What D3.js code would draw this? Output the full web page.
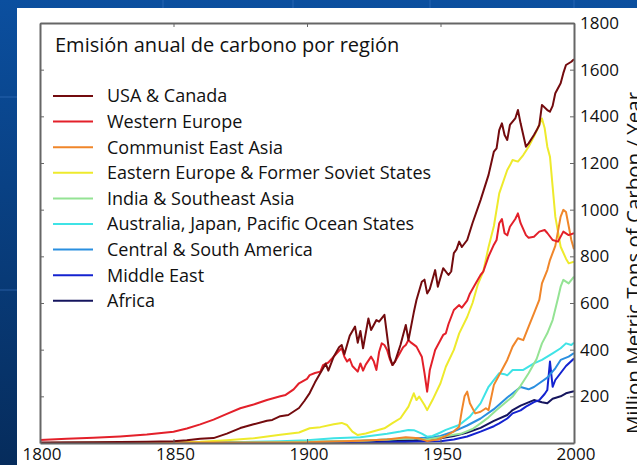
<!DOCTYPE html>
<html>
<head>
<meta charset="utf-8">
<script src="https://cdn.jsdelivr.net/npm/d3@7"></script>
<style>
  html, body { margin: 0; padding: 0; }
  body { width: 637px; height: 465px; overflow: hidden; }
  svg { display: block; font-family: "Open Sans", "DejaVu Sans", sans-serif; }
</style>
</head>
<body>
<svg id="chart" width="637" height="465"></svg>
<script>
// Million metric tons of carbon per year
const usaYears = [1800,1820,1830,1840,1850,1855,1860,1865,1870,1875,1880,1885,1887,1890,1893,1895,1897,1899,1901,1903,1905,1907,1908,1910,1912,1913,1914,1916,1918,1919,1920,1921,1923,1924,1926,1927,1929,1930,1931,1932,1933,1935,1937,1938,1940,1941,1943,1944,1945,1946,1948,1949,1951,1953,1954,1955,1956,1957,1958,1960,1962,1965,1968,1970,1971,1972,1973,1974,1975,1976,1978,1979,1980,1982,1983,1985,1986,1987,1988,1990,1991,1992,1993,1995,1996,1997,1999,2000];
const usaValues = [2,3,4,5,8,12,18,21,40,64,80,95,99,115,120,135,150,180,214,260,300,340,310,370,410,420,380,460,499,430,480,406,534,484,527,520,549,460,370,334,350,420,506,441,560,613,691,700,641,660,741,670,749,720,735,814,830,863,840,870,943,1041,1149,1249,1263,1341,1370,1320,1299,1363,1391,1427,1370,1270,1284,1320,1340,1363,1449,1427,1420,1445,1499,1542,1585,1620,1634,1645];

const weYears = [1800,1810,1820,1830,1840,1850,1855,1860,1865,1870,1875,1880,1885,1890,1892,1895,1897,1900,1901,1903,1905,1906,1908,1910,1912,1913,1914,1915,1916,1917,1919,1920,1921,1922,1924,1925,1926,1927,1928,1929,1930,1931,1932,1933,1934,1936,1937,1938,1939,1941,1943,1944,1945,1946,1948,1950,1951,1952,1953,1955,1957,1958,1960,1961,1963,1965,1966,1968,1970,1971,1972,1973,1974,1975,1976,1978,1979,1980,1982,1983,1985,1987,1989,1990,1992,1994,1996,1998,2000];
const weValues = [13,18,22,28,36,48,62,80,100,125,149,165,184,200,206,230,256,275,291,300,306,334,345,370,395,406,370,349,360,330,306,341,310,336,370,350,313,390,427,420,399,360,334,350,370,410,420,441,430,413,370,300,220,313,399,441,463,470,510,570,591,580,610,640,680,720,734,800,850,870,942,960,899,890,927,960,984,942,891,880,884,906,913,900,870,863,906,891,899];

const ceaYears = [1800,1900,1910,1920,1930,1937,1942,1945,1949,1952,1955,1957,1958,1959,1960,1961,1963,1965,1967,1968,1970,1973,1975,1977,1979,1981,1983,1985,1987,1988,1990,1991,1993,1995,1996,1997,1998,1999,2000];
const ceaValues = [0,3,6,10,15,25,20,8,15,30,50,70,140,200,220,170,127,134,149,141,249,313,356,413,449,441,499,556,613,684,741,784,845,970,999,990,930,870,830];

const eeYears = [1800,1850,1860,1870,1880,1890,1897,1901,1905,1910,1913,1915,1917,1919,1922,1925,1929,1932,1935,1938,1940,1941,1942,1944,1945,1947,1950,1952,1955,1957,1960,1962,1964,1966,1968,1970,1972,1975,1976,1977,1979,1981,1983,1985,1987,1988,1989,1990,1991,1992,1993,1995,1997,1998,2000];
const eeValues = [0,2,5,12,20,35,45,63,68,80,86,77,49,34,41,50,63,85,106,156,213,184,199,163,141,184,256,327,399,470,540,600,680,734,840,930,1070,1170,1190,1213,1206,1234,1270,1313,1363,1391,1350,1270,1227,1099,970,841,790,770,777];

const indYears = [1800,1880,1900,1920,1930,1940,1945,1950,1955,1958,1962,1965,1968,1971,1974,1977,1980,1983,1986,1988,1990,1992,1994,1995,1996,1998,2000];
const indValues = [0,2,5,10,15,20,15,25,35,41,60,84,110,141,170,199,245,299,360,427,470,527,620,670,699,684,713];

const ajpYears = [1800,1870,1880,1890,1900,1910,1920,1930,1935,1938,1940,1943,1945,1947,1950,1952,1957,1961,1965,1968,1972,1974,1975,1977,1981,1985,1988,1992,1995,1997,1999,2000];
const ajpValues = [0,2,5,8,12,20,25,40,49,56,55,40,27,30,45,56,77,113,170,241,299,295,290,313,313,341,356,384,406,427,420,430];

const csaYears = [1800,1880,1900,1920,1930,1940,1945,1950,1955,1960,1965,1970,1975,1980,1983,1985,1987,1990,1993,1995,1998,2000];
const csaValues = [0,1,4,10,15,20,22,30,50,75,105,145,195,240,230,240,256,280,320,356,370,385];

const meYears = [1800,1920,1930,1940,1950,1955,1960,1965,1970,1972,1975,1977,1980,1982,1985,1987,1989,1990,1991,1992,1993,1995,1997,2000];
const meValues = [0,1,3,5,8,15,28,49,72,84,105,127,140,156,175,184,210,227,349,241,270,300,330,362];

const afYears = [1800,1900,1920,1930,1940,1950,1955,1960,1965,1970,1975,1977,1980,1985,1988,1990,1992,1995,1997,2000];
const afValues = [0,2,5,8,12,20,30,45,65,95,120,141,160,184,175,170,190,200,213,222];

const seriesNames = ["USA & Canada", "Western Europe", "Communist East Asia",
  "Eastern Europe & Former Soviet States", "India & Southeast Asia",
  "Australia, Japan, Pacific Ocean States", "Central & South America",
  "Middle East", "Africa"];
const seriesColors = ["#730b0e", "#e3202a", "#f0862a", "#eeea2c", "#94e394",
  "#3fe3e6", "#2a8fe0", "#1423d0", "#15155e"];
const seriesYears = [usaYears, weYears, ceaYears, eeYears, indYears, ajpYears, csaYears, meYears, afYears];
const seriesValues = [usaValues, weValues, ceaValues, eeValues, indValues, ajpValues, csaValues, meValues, afValues];

const xTicks = [1800, 1850, 1900, 1950, 2000];
const yTicks = [200, 400, 600, 800, 1000, 1200, 1400, 1600, 1800];

const titleText = "Emisión anual de carbono por región";
const yLabelText = "Million Metric Tons of Carbon / Year";

const svg = d3.select("#chart");
const W = 637, H = 465;

// blue slide background
const defs = svg.append("defs");
const grad = defs.append("linearGradient").attr("id", "bg").attr("x1", 0).attr("y1", 0).attr("x2", 0).attr("y2", 1);
grad.append("stop").attr("offset", "0%").attr("stop-color", "#0b4f9f");
grad.append("stop").attr("offset", "100%").attr("stop-color", "#062c5c");
svg.append("rect").attr("width", W).attr("height", H).attr("fill", "url(#bg)");
[[163, 0, 163, 8], [293, 0, 293, 8], [430, 0, 430, 8], [574, 0, 574, 8], [0, 97, 17, 97], [0, 290, 17, 290]]
  .forEach(l => svg.append("line")
    .attr("x1", l[0]).attr("y1", l[1]).attr("x2", l[2]).attr("y2", l[3])
    .attr("stroke", "#3a74c0").attr("stroke-width", 1).attr("opacity", 0.6));

// white figure panel
svg.append("rect").attr("x", 17).attr("y", 8).attr("width", W - 17).attr("height", H - 8).attr("fill", "#fff");

const box = { left: 40, top: 23, right: 574, bottom: 443 };
const x = d3.scaleLinear().domain([1800, 2000]).range([box.left, box.right]);
const y = d3.scaleLinear().domain([0, 1800]).range([box.bottom, box.top]);

defs.append("clipPath").attr("id", "plotClip").append("rect")
  .attr("x", box.left).attr("y", box.top)
  .attr("width", box.right - box.left).attr("height", box.bottom - box.top);

const line = d3.line().x(d => x(d[0])).y(d => y(d[1]));

const lines = svg.append("g").attr("clip-path", "url(#plotClip)");
// draw from last to first so USA sits on top
for (let i = seriesNames.length - 1; i >= 0; i--) {
  const pts = seriesYears[i].map((yr, j) => [yr, seriesValues[i][j]]);
  lines.append("path")
    .datum(pts)
    .attr("d", line)
    .attr("fill", "none")
    .attr("stroke", seriesColors[i])
    .attr("stroke-width", 2)
    .attr("stroke-linejoin", "round");
}

// axes box, matlab style with inward ticks
const axisColor = "#666";
const tickLen = 4;

svg.append("g").attr("transform", `translate(0,${box.bottom})`)
  .call(d3.axisTop(x).tickValues(xTicks).tickSize(tickLen).tickFormat("").tickSizeOuter(0))
  .call(g => g.select(".domain").attr("stroke", axisColor).attr("stroke-width", 2))
  .call(g => g.selectAll(".tick line").attr("stroke", axisColor));

svg.append("g").attr("transform", `translate(0,${box.top})`)
  .call(d3.axisBottom(x).tickValues(xTicks).tickSize(tickLen).tickFormat("").tickSizeOuter(0))
  .call(g => g.select(".domain").attr("stroke", axisColor).attr("stroke-width", 2))
  .call(g => g.selectAll(".tick line").attr("stroke", axisColor));

svg.append("g").attr("transform", `translate(${box.left},0)`)
  .call(d3.axisRight(y).tickValues(yTicks).tickSize(tickLen).tickFormat("").tickSizeOuter(0))
  .call(g => g.select(".domain").attr("stroke", axisColor).attr("stroke-width", 2))
  .call(g => g.selectAll(".tick line").attr("stroke", axisColor));

svg.append("g").attr("transform", `translate(${box.right},0)`)
  .call(d3.axisLeft(y).tickValues(yTicks).tickSize(tickLen).tickFormat("").tickSizeOuter(0))
  .call(g => g.select(".domain").attr("stroke", axisColor).attr("stroke-width", 2))
  .call(g => g.selectAll(".tick line").attr("stroke", axisColor));

// tick labels
svg.append("g").selectAll("text")
  .data(yTicks)
  .join("text")
  .attr("x", box.right + 6)
  .attr("y", d => y(d))
  .attr("dy", "0.35em")
  .style("font-size", "17px")
  .attr("fill", "#111")
  .text(d => d);

svg.append("g").selectAll("text")
  .data(xTicks)
  .join("text")
  .attr("x", d => x(d) + 2)
  .attr("y", 460)
  .attr("text-anchor", "middle")
  .style("font-size", "17px")
  .attr("fill", "#111")
  .text(d => d);

// y axis title, partly off the right edge as in the original
svg.append("text")
  .attr("transform", `translate(641,${263}) rotate(-90)`)
  .attr("text-anchor", "middle")
  .style("font-size", "20.5px")
  .attr("fill", "#111")
  .text(yLabelText);

// title
svg.append("text")
  .attr("x", 55)
  .attr("y", 52)
  .style("font-size", "20px")
  .attr("fill", "#111")
  .text(titleText);

// legend
const legend = svg.append("g");
seriesNames.forEach((name, i) => {
  const ly = 96 + i * 25.6;
  legend.append("line")
    .attr("x1", 53).attr("x2", 93).attr("y1", ly).attr("y2", ly)
    .attr("stroke", seriesColors[i]).attr("stroke-width", 2);
  legend.append("text")
    .attr("x", 107).attr("y", ly)
    .attr("dy", "0.35em")
    .style("font-size", "18px")
    .attr("fill", "#111")
    .text(name);
});
</script>
</body>
</html>
